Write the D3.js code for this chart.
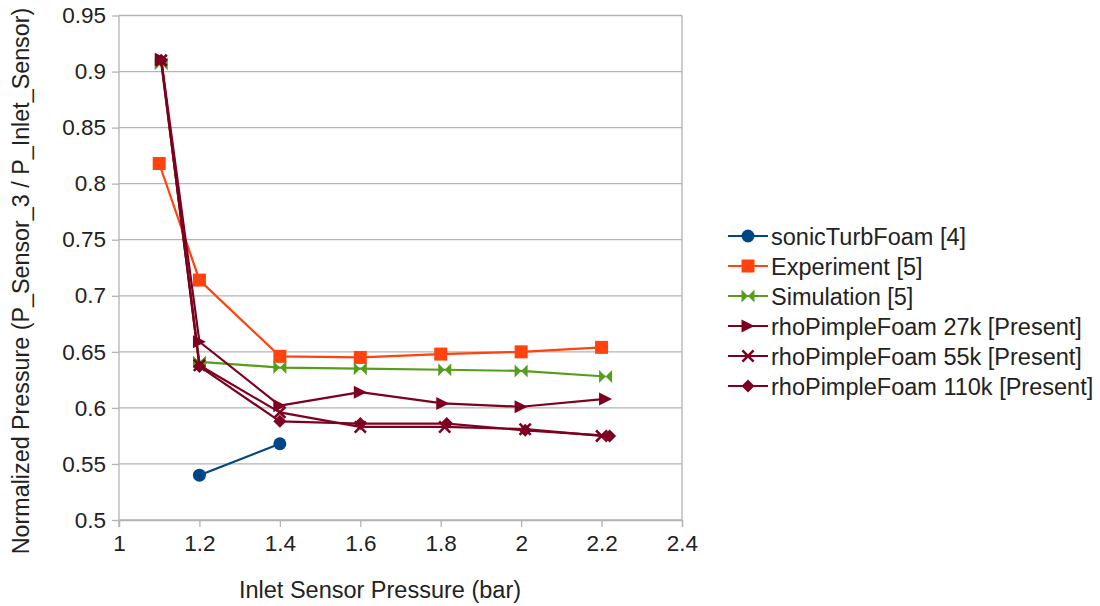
<!DOCTYPE html>
<html>
<head>
<meta charset="utf-8">
<script src="https://cdn.jsdelivr.net/npm/d3@7"></script>
<style>
  html, body { margin: 0; padding: 0; background: #fff; }
  svg { display: block; }
  text { font-family: "Liberation Sans", Arial, sans-serif; fill: #222; }
</style>
</head>
<body>
<svg id="chart" width="1100" height="606"></svg>
<script>
// ---- data ----
const xTicks = [1, 1.2, 1.4, 1.6, 1.8, 2, 2.2, 2.4];
const yTicks = [0.5, 0.55, 0.6, 0.65, 0.7, 0.75, 0.8, 0.85, 0.9, 0.95];

const sonicX = [1.2, 1.4];
const sonicY = [0.540, 0.568];

const expX = [1.1, 1.2, 1.4, 1.6, 1.8, 2.0, 2.2];
const expY = [0.818, 0.714, 0.646, 0.645, 0.648, 0.650, 0.654];

const simX = [1.105, 1.2, 1.4, 1.6, 1.81, 2.0, 2.21];
const simY = [0.907, 0.641, 0.636, 0.635, 0.634, 0.633, 0.628];

const rho27X = [1.105, 1.2, 1.4, 1.6, 1.805, 2.0, 2.21];
const rho27Y = [0.911, 0.659, 0.602, 0.614, 0.604, 0.601, 0.608];

const rho55X = [1.105, 1.2, 1.4, 1.6, 1.81, 2.01, 2.2];
const rho55Y = [0.910, 0.638, 0.596, 0.583, 0.583, 0.581, 0.575];

const rho110X = [1.105, 1.2, 1.4, 1.6, 1.815, 2.01, 2.22];
const rho110Y = [0.910, 0.637, 0.588, 0.586, 0.586, 0.580, 0.575];

const seriesNames = ["sonicTurbFoam [4]", "Experiment [5]", "Simulation [5]",
  "rhoPimpleFoam 27k [Present]", "rhoPimpleFoam 55k [Present]", "rhoPimpleFoam 110k [Present]"];
const seriesColors = ["#004586", "#ff420e", "#579d1c", "#7e0021", "#7e0021", "#7e0021"];
const seriesMarkers = ["circle", "square", "bowtie", "triangle", "cross", "diamond"];

const series = [
  {xs: sonicX, ys: sonicY},
  {xs: expX, ys: expY},
  {xs: simX, ys: simY},
  {xs: rho27X, ys: rho27Y},
  {xs: rho55X, ys: rho55Y},
  {xs: rho110X, ys: rho110Y}
].map((s, i) => ({
  name: seriesNames[i], color: seriesColors[i], marker: seriesMarkers[i],
  points: s.xs.map((x, j) => ({x, y: s.ys[j]}))
}));

// ---- layout ----
const svg = d3.select("#chart");
const plot = {left: 119, right: 682, top: 15.5, bottom: 520};
const x = d3.scaleLinear().domain([1, 2.4]).range([plot.left, plot.right]);
const y = d3.scaleLinear().domain([0.5, 0.95]).range([plot.bottom, plot.top]);
const gridColor = "#b3b3b3";
const fmt = d => String(+d.toFixed(2));

// gridlines
svg.append("g").selectAll("line").data(yTicks).join("line")
  .attr("x1", plot.left).attr("x2", plot.right)
  .attr("y1", d => y(d)).attr("y2", d => y(d))
  .attr("stroke", gridColor).attr("stroke-width", 1.3);

// right border
svg.append("line").attr("x1", plot.right).attr("x2", plot.right)
  .attr("y1", plot.top).attr("y2", plot.bottom)
  .attr("stroke", gridColor).attr("stroke-width", 1.3);

// axes
const yAxis = d3.axisLeft(y).tickValues(yTicks).tickFormat(fmt).tickSize(7).tickPadding(6);
const gy = svg.append("g").attr("transform", `translate(${plot.left},0)`).call(yAxis);
const xAxis = d3.axisBottom(x).tickValues(xTicks).tickFormat(fmt).tickSize(7).tickPadding(8);
const gx = svg.append("g").attr("transform", `translate(0,${plot.bottom})`).call(xAxis);
[gx, gy].forEach(g => {
  g.select(".domain").attr("stroke", gridColor).attr("stroke-width", 1.3);
  g.selectAll(".tick line").attr("stroke", gridColor).attr("stroke-width", 1.3);
  g.selectAll(".tick text").style("font-family", '"Liberation Sans", Arial, sans-serif')
    .style("font-size", "22.5px").attr("fill", "#222");
});
gy.select(".domain").attr("d", `M0,${plot.bottom + 7}V${plot.top}`);

// axis titles
svg.append("text").attr("x", 380).attr("y", 598).attr("text-anchor", "middle")
  .style("font-size", "23.5px").text("Inlet Sensor Pressure (bar)");
svg.append("text").attr("transform", "translate(29,281) rotate(-90)").attr("text-anchor", "middle")
  .style("font-size", "23.3px").text("Normalized Pressure (P_Sensor_3 / P_Inlet_Sensor)");

// marker shapes
const s = 6.5;
const markerPath = {
  circle: `M${s},0A${s},${s} 0 1,1 ${-s},0A${s},${s} 0 1,1 ${s},0Z`,
  square: `M${-s},${-s}H${s}V${s}H${-s}Z`,
  bowtie: `M${-s},${-s}L${s},${s}L${s},${-s}L${-s},${s}Z`,
  triangle: `M${-s},${-s}L${s},0L${-s},${s}Z`,
  diamond: `M0,${-s}L${s},0L0,${s}L${-s},0Z`,
  cross: (() => { const a = s, w = 1.8; return `M${-a},${-a + w}L${-w},0L${-a},${a - w}L${-a + w},${a}L0,${w}L${a - w},${a}L${a},${a - w}L${w},0L${a},${-a + w}L${a - w},${-a}L0,${-w}L${-a + w},${-a}Z`; })()
};

const line = d3.line().x(d => x(d.x)).y(d => y(d.y));
const gSeries = svg.append("g");
series.forEach(ser => {
  const g = gSeries.append("g");
  g.append("path").datum(ser.points).attr("d", line)
    .attr("fill", "none").attr("stroke", ser.color).attr("stroke-width", 2.2)
    .attr("stroke-linejoin", "round");
  g.selectAll("path.m").data(ser.points).join("path").attr("class", "m")
    .attr("transform", d => `translate(${x(d.x)},${y(d.y)})`)
    .attr("d", markerPath[ser.marker]).attr("fill", ser.color);
});

// legend
const legY0 = 236, legStep = 30;
const leg = svg.append("g");
series.forEach((ser, i) => {
  const cy = legY0 + i * legStep;
  leg.append("line").attr("x1", 728).attr("x2", 768).attr("y1", cy).attr("y2", cy)
    .attr("stroke", ser.color).attr("stroke-width", 2.2);
  leg.append("path").attr("transform", `translate(748,${cy})`)
    .attr("d", markerPath[ser.marker]).attr("fill", ser.color);
  leg.append("text").attr("x", 771).attr("y", cy + 8.5).style("font-size", "23.5px").text(ser.name);
});
</script>
</body>
</html>
